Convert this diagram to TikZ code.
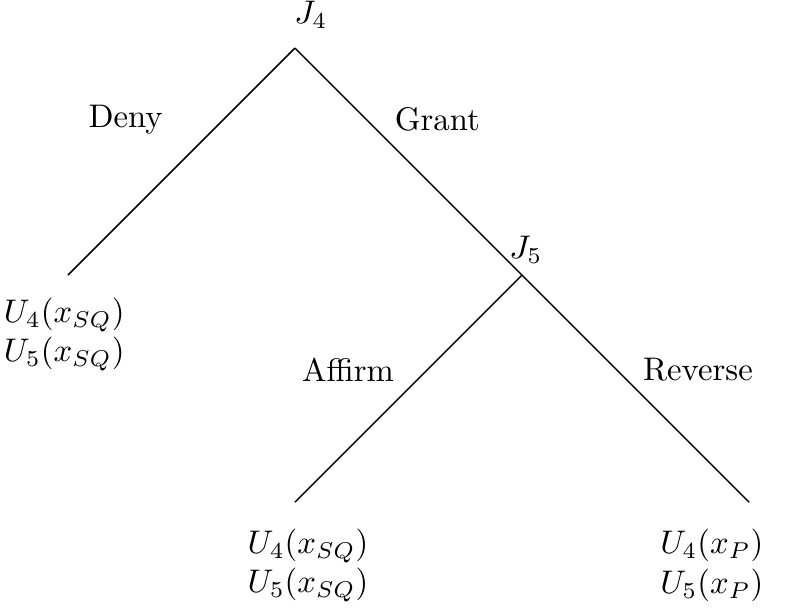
\documentclass[tikz,border=0pt]{standalone}
\usepackage{amsmath,amssymb}
\usepackage{tikz}
\usetikzlibrary{positioning,calc}

\begin{document}
\begin{tikzpicture}[
 branch/.style={draw, line width=0.45pt},
 lbl/.style={inner sep=0pt},
 pay/.style={inner sep=0pt, align=left}]
\useasboundingbox (-3.170,0.516) rectangle (5.513,-6.018);
% noeuds de decision
\coordinate (j4) at (0,0);
\coordinate (j5) at (2.44,-2.44);
\coordinate (deny) at (-2.44,-2.44);
\coordinate (affirm) at (0,-4.88);
\coordinate (reverse) at (4.88,-4.88);
\node[lbl] (lj4) at (0.17,0.36) {$J_4$};
\node[lbl] (lj5) at (2.48,-2.17) {$J_5$};
% branches
\draw[branch] (j4)--(deny);
\draw[branch] (j4)--(j5)--(reverse);
\draw[branch] (j5)--(affirm);
% etiquettes des branches
\node[lbl] (tdeny) at (-1.82,-0.77) {Deny};
\node[lbl] (tgrant) at (1.53,-0.77) {Grant};
\node[lbl] (taffirm) at (0.57,-3.46) {Affirm};
\node[lbl] (treverse) at (4.33,-3.46) {Reverse};
% gains
\node[pay] (pdeny) at (-2.48,-3.08) {$U_4(x_{SQ})$\\ $U_5(x_{SQ})$};
\node[pay] (paffirm) at (0.14,-5.56) {$U_4(x_{SQ})$\\ $U_5(x_{SQ})$};
\node[pay] (preverse) at (4.48,-5.56) {$U_4(x_P)$\\ $U_5(x_P)$};
\end{tikzpicture}
\end{document}
